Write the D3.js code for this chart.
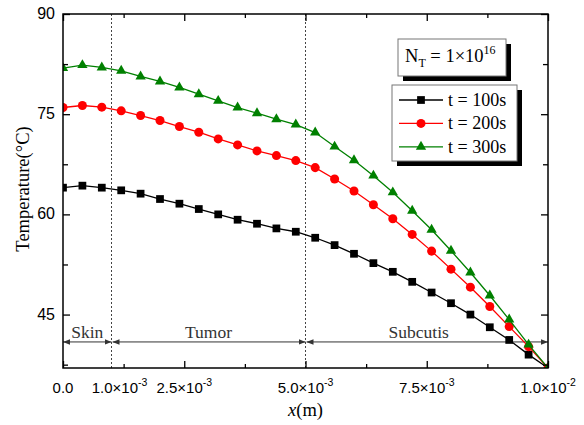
<!DOCTYPE html>
<html>
<head>
<meta charset="utf-8">
<script src="https://cdn.jsdelivr.net/npm/d3@7"></script>
<style>
	body { margin: 0; background: #fff; }
	svg { display: block; }
</style>
</head>
<body>
<div id="chart"></div>
<script>
// depth positions (m) and temperatures (C) for each time
var positions = [0, 0.0004, 0.0008, 0.0012, 0.0016, 0.0020, 0.0024, 0.0028, 0.0032, 0.0036, 0.0040, 0.0044, 0.0048,
	0.0052, 0.0056, 0.0060, 0.0064, 0.0068, 0.0072, 0.0076, 0.0080, 0.0084, 0.0088, 0.0092, 0.0096, 0.0100];
var temp100 = [64.0, 64.3, 64.0, 63.6, 63.1, 62.3, 61.6, 60.8, 60.0, 59.2, 58.6, 57.9, 57.4,
	56.5, 55.4, 54.1, 52.7, 51.4, 49.9, 48.3, 46.7, 45.0, 43.1, 41.2, 39.0, 37.0];
var temp200 = [76.0, 76.3, 76.05, 75.5, 74.8, 74.05, 73.15, 72.3, 71.3, 70.4, 69.5, 68.8, 68.05,
	67.0, 65.3, 63.5, 61.45, 59.35, 57.0, 54.5, 51.8, 49.1, 46.2, 43.2, 40.2, 37.0];
var temp300 = [81.9, 82.35, 82.0, 81.5, 80.65, 79.9, 79.0, 78.0, 77.0, 76.0, 75.15, 74.25, 73.45,
	72.25, 70.15, 68.1, 65.8, 63.3, 60.55, 57.7, 54.55, 51.3, 47.85, 44.25, 40.5, 37.0];
var seriesNames = ['t = 100s', 't = 200s', 't = 300s'];

var yTicks = [45, 60, 75, 90];
var yMinorTicks = [37.5, 52.5, 67.5, 82.5];
var xTicks = [0, 0.0025, 0.005, 0.0075, 0.01];
var xMinorTicks = [0.00125, 0.00375, 0.00625, 0.00875];
var xLabelPos = [0, 0.001, 0.0025, 0.005, 0.0075, 0.01];
var xLabelMain = ['0.0', '1.0\u00d710', '2.5\u00d710', '5.0\u00d710', '7.5\u00d710', '1.0\u00d710'];
var xLabelExp = ['', '-3', '-3', '-3', '-3', '-2'];

var regionNames = ['Skin', 'Tumor', 'Subcutis'];
var regionBounds = [0, 0.001, 0.005, 0.01];

var width = 584, height = 425;
var margin = {top: 14, right: 36, bottom: 57, left: 63};
var plotW = width - margin.left - margin.right;
var plotH = height - margin.top - margin.bottom;
var serif = '"Liberation Serif", "Times New Roman", serif';
var sans = '"Liberation Sans", Arial, sans-serif';

var colors = ['#000000', '#ff0000', '#008000'];
var symbols = [d3.symbolSquare, d3.symbolCircle, d3.symbolTriangle];
var symSizes = [60, 64, 46];

var svg = d3.select('#chart').append('svg')
	.attr('width', width)
	.attr('height', height);

var x = d3.scaleLinear().domain([0, 0.01]).range([0, plotW]);
var y = d3.scaleLinear().domain([37, 90]).range([plotH, 0]);

var g = svg.append('g').attr('transform', 'translate(' + margin.left + ',' + margin.top + ')');

svg.append('defs').append('clipPath').attr('id', 'plotclip')
	.append('rect').attr('width', plotW).attr('height', plotH);

// region divider lines
g.selectAll('.divider')
	.data([0.001, 0.005])
	.enter().append('line')
	.attr('x1', d => x(d)).attr('x2', d => x(d))
	.attr('y1', 0).attr('y2', plotH)
	.attr('stroke', '#444')
	.attr('stroke-width', 1)
	.attr('stroke-dasharray', '2,2');

// dimension arrows
var arrowY = y(40.9);
var defs = svg.select('defs');
defs.append('marker').attr('id', 'arrowhead')
	.attr('viewBox', '0 0 10 10').attr('refX', 10).attr('refY', 5)
	.attr('markerWidth', 7).attr('markerHeight', 7)
	.attr('markerUnits', 'userSpaceOnUse')
	.attr('orient', 'auto-start-reverse')
	.append('path').attr('d', 'M0,1L10,5L0,9Z').attr('fill', '#333');

for (let i = 0; i < regionNames.length; i++) {
	let a = x(regionBounds[i]) + (i > 0 ? 1 : 0);
	let b = x(regionBounds[i + 1]);
	g.append('line')
		.attr('x1', a).attr('x2', b)
		.attr('y1', arrowY).attr('y2', arrowY)
		.attr('stroke', '#333').attr('stroke-width', 1)
		.attr('marker-start', 'url(#arrowhead)')
		.attr('marker-end', 'url(#arrowhead)');
	let cx = (x(regionBounds[i]) + x(regionBounds[i + 1])) / 2;
	if (i === 2) cx -= 8;
	g.append('text')
		.attr('x', cx).attr('y', arrowY - 4)
		.attr('text-anchor', 'middle')
		.attr('font-family', serif).attr('font-size', 17.5)
		.attr('fill', '#333')
		.text(regionNames[i]);
}

// series
var allSeries = [temp100, temp200, temp300];
var line = d3.line()
	.x((d, i) => x(positions[i]))
	.y(d => y(d));

var plot = g.append('g').attr('clip-path', 'url(#plotclip)');
allSeries.forEach(function(values, s) {
	plot.append('path')
		.datum(values)
		.attr('d', line)
		.attr('fill', 'none')
		.attr('stroke', colors[s])
		.attr('stroke-width', 1.3);
	plot.selectAll('.m' + s)
		.data(values)
		.enter().append('path')
		.attr('transform', (d, i) => 'translate(' + x(positions[i]) + ',' + y(d) + ')')
		.attr('d', d3.symbol().type(symbols[s]).size(symSizes[s]))
		.attr('fill', colors[s]);
});

// axes (frame with inward ticks on all sides)
function tickAxis(axisFn, scale, ticks, len) {
	return axisFn(scale).tickValues(ticks).tickSize(-len).tickFormat('');
}
var bottomG = g.append('g').attr('transform', 'translate(0,' + plotH + ')');
bottomG.call(tickAxis(d3.axisBottom, x, xTicks, 7));
bottomG.append('g').call(tickAxis(d3.axisBottom, x, xMinorTicks, 4));
var topG = g.append('g');
topG.call(tickAxis(d3.axisTop, x, xTicks, 7));
topG.append('g').call(tickAxis(d3.axisTop, x, xMinorTicks, 4));
var leftG = g.append('g');
leftG.call(tickAxis(d3.axisLeft, y, yTicks, 7));
leftG.append('g').call(tickAxis(d3.axisLeft, y, yMinorTicks, 5));
var rightG = g.append('g').attr('transform', 'translate(' + plotW + ',0)');
rightG.call(tickAxis(d3.axisRight, y, yTicks, 7));
rightG.append('g').call(tickAxis(d3.axisRight, y, yMinorTicks, 5));

g.selectAll('.domain').remove();
g.selectAll('.tick line').attr('stroke', '#000').attr('stroke-width', 1.3);

g.append('rect')
	.attr('width', plotW).attr('height', plotH)
	.attr('fill', 'none').attr('stroke', '#000').attr('stroke-width', 1.5);

// y tick labels
g.selectAll('.ylab')
	.data(yTicks)
	.enter().append('text')
	.attr('x', -8).attr('y', d => y(d) + 5)
	.attr('text-anchor', 'end')
	.attr('font-family', sans).attr('font-size', 16)
	.text(d => d);

// x tick labels
xLabelPos.forEach(function(p, i) {
	let t = g.append('text')
		.attr('y', plotH + 25)
		.attr('text-anchor', 'middle')
		.attr('font-family', sans).attr('font-size', 15)
		.attr('x', x(p) + (i === 1 ? 8 : 0));
	t.append('tspan').text(xLabelMain[i]);
	if (xLabelExp[i]) {
		t.append('tspan').attr('dy', -7).attr('font-size', 10.5).text(xLabelExp[i]);
	}
});

// axis titles
var xt = svg.append('text')
	.attr('x', margin.left + plotW / 2).attr('y', 416)
	.attr('text-anchor', 'middle')
	.attr('font-family', serif).attr('font-size', 18.5);
xt.append('tspan').attr('font-style', 'italic').text('x');
xt.append('tspan').text('(m)');

svg.append('text')
	.attr('transform', 'translate(29,189) rotate(-90)')
	.attr('text-anchor', 'middle')
	.attr('font-family', serif).attr('font-size', 18.5)
	.text('Temperature(\u00b0C)');

// N_T box
var nb = {x: 398, y: 39, w: 108, h: 37};
svg.append('rect').attr('x', nb.x + 5).attr('y', nb.y + 5).attr('width', nb.w).attr('height', nb.h).attr('fill', '#000');
svg.append('rect').attr('x', nb.x).attr('y', nb.y).attr('width', nb.w).attr('height', nb.h)
	.attr('fill', '#fff').attr('stroke', '#777').attr('stroke-width', 1);
var nt = svg.append('text').attr('x', 405).attr('y', 62)
	.attr('font-family', serif).attr('font-size', 18.5);
nt.append('tspan').text('N');
nt.append('tspan').attr('dy', 5).attr('font-size', 12).text('T');
nt.append('tspan').attr('dy', -5).text(' = 1\u00d710');
nt.append('tspan').attr('dy', -8).attr('font-size', 12).text('16');

// legend
var lb = {x: 392, y: 85, w: 125, h: 76};
svg.append('rect').attr('x', lb.x + 5).attr('y', lb.y + 5).attr('width', lb.w).attr('height', lb.h).attr('fill', '#000');
svg.append('rect').attr('x', lb.x).attr('y', lb.y).attr('width', lb.w).attr('height', lb.h)
	.attr('fill', '#fff').attr('stroke', '#777').attr('stroke-width', 1);

seriesNames.forEach(function(name, s) {
	let ry = 100 + s * 23.4;
	svg.append('line')
		.attr('x1', 399).attr('x2', 443)
		.attr('y1', ry).attr('y2', ry)
		.attr('stroke', colors[s]).attr('stroke-width', 1.3);
	svg.append('path')
		.attr('transform', 'translate(421,' + ry + ')')
		.attr('d', d3.symbol().type(symbols[s]).size(symSizes[s]))
		.attr('fill', colors[s]);
	svg.append('text')
		.attr('x', 448).attr('y', ry + 6)
		.attr('font-family', serif).attr('font-size', 18)
		.text(name);
});
</script>
</body>
</html>
